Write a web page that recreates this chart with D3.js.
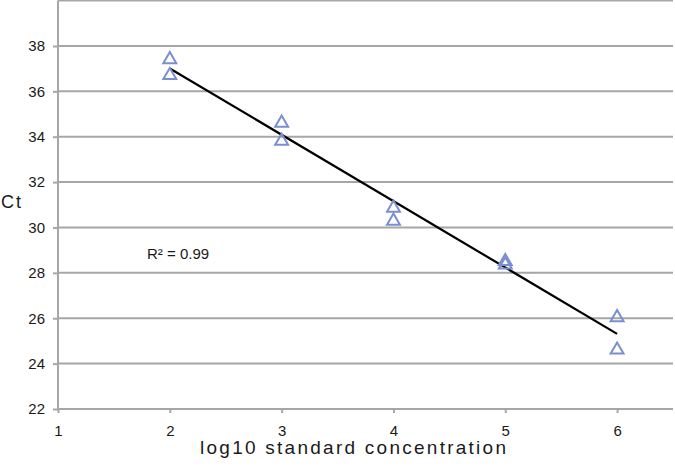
<!DOCTYPE html>
<html>
<head>
<meta charset="utf-8">
<script src="https://cdn.jsdelivr.net/npm/d3@7"></script>
<style>
  html, body { margin: 0; padding: 0; background: #fff; }
  svg { display: block; }
  text { font-family: "Liberation Sans", Arial, sans-serif; fill: #1a1a1a; }
</style>
</head>
<body>
<script>
// Data
const xValues = [2, 2, 3, 3, 4, 4, 5, 5, 6, 6];
const ctValues = [37.45, 36.75, 34.65, 33.85, 30.9, 30.33, 28.55, 28.4, 26.08, 24.65];
const xTicks = [1, 2, 3, 4, 5, 6];
const yTicks = [22, 24, 26, 28, 30, 32, 34, 36, 38];
const yGrid = [22, 24, 26, 28, 30, 32, 34, 36, 38, 40];
const r2Label = "R² = 0.99";
const xTitle = "log10 standard concentration";
const yTitle = "Ct";

const W = 675, H = 467;
const svg = d3.select("body").append("svg").attr("width", W).attr("height", H);

const x = d3.scaleLinear().domain([1, 6.5]).range([58, 673]);
const y = d3.scaleLinear().domain([22, 40]).range([409, 0.6]);

const grid = "#a6a6a6";

// horizontal gridlines
svg.append("g").selectAll("line").data(yGrid).join("line")
  .attr("x1", x(1)).attr("x2", x(6.5))
  .attr("y1", d => y(d)).attr("y2", d => y(d))
  .attr("stroke", grid).attr("stroke-width", 2);

// y axis
const yAxis = d3.axisLeft(y).tickValues(yTicks).tickSize(5).tickPadding(8).tickFormat(d3.format("d"));
const gy = svg.append("g").attr("transform", `translate(${x(1)},0)`).call(yAxis);
gy.select(".domain").remove();
gy.selectAll(".tick line").attr("stroke", grid).attr("stroke-width", 2);
gy.selectAll(".tick text").attr("font-size", 15).attr("fill", "#1a1a1a")
  .style("font-family", "'Liberation Sans', Arial, sans-serif");
svg.append("line").attr("x1", x(1)).attr("x2", x(1)).attr("y1", y(40)).attr("y2", y(22) + 1)
  .attr("stroke", grid).attr("stroke-width", 2);

// x axis
const xAxis = d3.axisBottom(x).tickValues(xTicks).tickSize(4).tickPadding(12).tickFormat(d3.format("d"));
const gx = svg.append("g").attr("transform", `translate(0,${y(22)})`).call(xAxis);
gx.select(".domain").remove();
gx.selectAll(".tick line").attr("stroke", grid).attr("stroke-width", 2);
gx.selectAll(".tick text").attr("font-size", 15).attr("fill", "#1a1a1a")
  .style("font-family", "'Liberation Sans', Arial, sans-serif");

// trendline (least squares from data)
const mx = d3.mean(xValues), my = d3.mean(ctValues);
const sxy = d3.sum(xValues, (v, i) => (v - mx) * (ctValues[i] - my));
const sxx = d3.sum(xValues, v => (v - mx) * (v - mx));
const slope = sxy / sxx, intercept = my - slope * mx;
const x0 = d3.min(xValues), x1 = d3.max(xValues);
svg.append("line")
  .attr("x1", x(x0)).attr("y1", y(intercept + slope * x0))
  .attr("x2", x(x1)).attr("y2", y(intercept + slope * x1))
  .attr("stroke", "#000").attr("stroke-width", 2.2);

// triangle markers
const tri = d3.symbol().type(d3.symbolTriangle).size(72);
svg.append("g").selectAll("path").data(xValues.map((v, i) => [v, ctValues[i]])).join("path")
  .attr("d", tri)
  .attr("transform", d => `translate(${x(d[0])},${y(d[1]) + 1})`)
  .attr("fill", "none").attr("stroke", "#7b8ed0").attr("stroke-width", 2);

// R² label
svg.append("text").attr("x", 147).attr("y", 259).attr("font-size", 15).text(r2Label);

// axis titles
svg.append("text").attr("x", 1).attr("y", 208).attr("font-size", 18)
  .attr("letter-spacing", 2).text(yTitle);
svg.append("text").attr("x", 353).attr("y", 454).attr("font-size", 19)
  .attr("text-anchor", "middle").attr("textLength", 306).attr("lengthAdjust", "spacing")
  .text(xTitle);
</script>
</body>
</html>
